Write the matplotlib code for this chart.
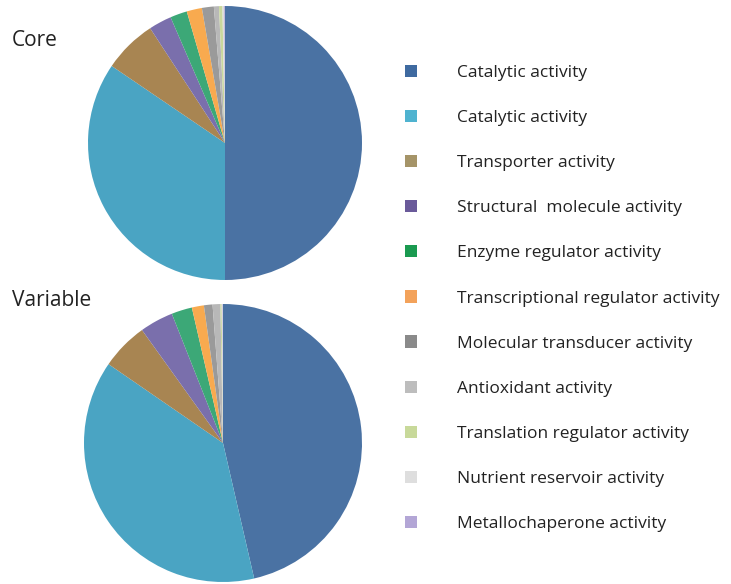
import matplotlib.pyplot as plt
from matplotlib.patches import Patch

# ==============================
# Data (percent of genes per GO molecular function)
# ==============================
categories = [
    "Catalytic activity",
    "Catalytic activity",
    "Transporter activity",
    "Structural  molecule activity",
    "Enzyme regulator activity",
    "Transcriptional regulator activity",
    "Molecular transducer activity",
    "Antioxidant activity",
    "Translation regulator activity",
    "Nutrient reservoir activity",
    "Metallochaperone activity",
]
core_values = [50.0, 34.5, 6.3, 2.7, 2.0, 1.8, 1.4, 0.6, 0.4, 0.2, 0.1]
variable_values = [46.4, 38.2, 5.5, 3.9, 2.4, 1.4, 1.0, 0.9, 0.15, 0.1, 0.05]

colors = ["#4a72a3", "#4aa4c3", "#a88552", "#7a6fac", "#3ca877", "#f8aa4f",
          "#9a9a9a", "#b8b8b8", "#c9d89c", "#dcdcdc", "#b5a8d6"]
legend_colors = ["#3f6aa0", "#4fb3d0", "#a59468", "#6a5a9a", "#1a9a50", "#f3a25a",
                 "#8a8a8a", "#bdbdbd", "#c8d99a", "#dedede", "#b3a6d6"]

plt.rcParams["font.family"] = ["Open Sans", "DejaVu Sans"]

W, H = 731, 584
fig = plt.figure(figsize=(W / 100, H / 100), dpi=100)


def pie_axes(cx, cy, r):
    return fig.add_axes([(cx - r) / W, (H - cy - r) / H, 2 * r / W, 2 * r / H])


# ==============================
# Core pie
# ==============================
ax1 = pie_axes(225, 143, 137)
ax1.pie(core_values, colors=colors, startangle=90, counterclock=False,
        radius=1, wedgeprops=dict(linewidth=0))
ax1.set_xlim(-1, 1)
ax1.set_ylim(-1, 1)
ax1.axis("off")

# ==============================
# Variable pie
# ==============================
ax2 = pie_axes(223, 443, 139)
ax2.pie(variable_values, colors=colors, startangle=90, counterclock=False,
        radius=1, wedgeprops=dict(linewidth=0))
ax2.set_xlim(-1, 1)
ax2.set_ylim(-1, 1)
ax2.axis("off")

fig.text(12 / W, 1 - 40 / H, "Core", fontsize=15, va="center", color="#222222")
fig.text(12 / W, 1 - 300 / H, "Variable", fontsize=15, va="center", color="#222222")

# ==============================
# Legend
# ==============================
handles = [Patch(facecolor=c, edgecolor="none") for c in legend_colors]
fig.legend(handles, categories, loc="upper left",
           bbox_to_anchor=(389 / W, 1 - 49 / H), frameon=False,
           fontsize=12.5, labelspacing=1.67, handlelength=0.7, handleheight=0.7,
           handletextpad=2.3, labelcolor="#222222")

fig.savefig("out.png", dpi=100)
